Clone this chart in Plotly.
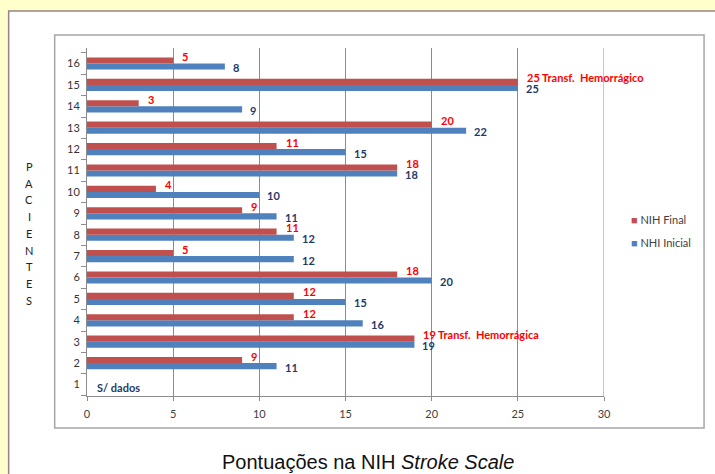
import plotly.graph_objects as go

# ---------------- data ----------------
patients = [str(i) for i in range(1, 17)]
nih_final = [None, 9, 19, 12, 12, 18, 5, 11, 9, 4, 18, 11, 20, 3, 25, 5]
nhi_inicial = [None, 11, 19, 16, 15, 20, 12, 12, 11, 10, 18, 15, 22, 9, 25, 8]
final_labels = ["", "9", "19 Transf.  Hemorrágica", "12", "12", "18", "5", "11", "9", "4",
                "18", "11", "20", "3", "25 Transf.  Hemorrágico", "5"]
inicial_labels = ["", "11", "19", "16", "15", "20", "12", "12", "11", "10",
                  "18", "15", "22", "9", "25", "8"]
no_data_label = "S/ dados"
series_names = ["NIH Final", "NHI Inicial"]
x_ticks = [0, 5, 10, 15, 20, 25, 30]
y_title_letters = list("PACIENTES")
title_text = "Pontuações na NIH <i>Stroke Scale</i>"

RED = "#C0504D"
BLUE = "#4F81BD"
RED_TXT = "#FF0000"
BLUE_TXT = "#1F3A68"
GRID = "#8C8C8C"
FONT = "Lato, Liberation Sans, sans-serif"

# ---------------- geometry (pixels) ----------------
W, H = 715, 474
L, R, T, B = 87.3, 604.0, 48.0, 396.0
PW, PH = R - L, B - T


def px(x):
    return (x - L) / PW


def py(y):
    return (B - y) / PH


fig = go.Figure()
fig.add_trace(go.Bar(y=patients, x=nhi_inicial, orientation="h", name=series_names[1],
                     marker=dict(color=BLUE, line=dict(width=0)), showlegend=False,
                     hoverinfo="x+y"))
fig.add_trace(go.Bar(y=patients, x=nih_final, orientation="h", name=series_names[0],
                     marker=dict(color=RED, line=dict(width=0)), showlegend=False,
                     hoverinfo="x+y"))

annotations = []
# category axis: annotation positions use the category index
for idx, (v, t) in enumerate(zip(nih_final, final_labels)):
    if v is None:
        continue
    annotations.append(dict(x=v, y=idx, xref="x", yref="y", text=t, showarrow=False,
                            xanchor="left", yanchor="middle", xshift=7, yshift=7,
                            font=dict(family=FONT, size=11, color=RED_TXT, weight="bold")))
for idx, (v, t) in enumerate(zip(nhi_inicial, inicial_labels)):
    if v is None:
        continue
    annotations.append(dict(x=v, y=idx, xref="x", yref="y", text=t, showarrow=False,
                            xanchor="left", yanchor="middle", xshift=6, yshift=-4,
                            font=dict(family=FONT, size=11, color=BLUE_TXT, weight="bold")))
# no data label for patient 1
annotations.append(dict(x=0, y=0, xref="x", yref="y", text=no_data_label,
                        showarrow=False, xanchor="left", yanchor="middle", xshift=8, yshift=-3,
                        font=dict(family=FONT, size=11, color=BLUE_TXT, weight="bold")))

# vertical "PACIENTES"
for i, ch in enumerate(y_title_letters):
    annotations.append(dict(x=px(29.5), y=py(166.5 + i * 16.7), xref="paper", yref="paper",
                            text=ch, showarrow=False, xanchor="center", yanchor="middle",
                            font=dict(family=FONT, size=11, color="#222222")))

# legend (annotations)
leg = [(series_names[0], RED, 220), (series_names[1], BLUE, 243)]
for name, col, yy in leg:
    annotations.append(dict(x=px(629), y=py(yy), xref="paper", yref="paper",
                            text=f"<span style='color:{col}'>■</span> {name}",
                            showarrow=False, xanchor="left", yanchor="middle",
                            font=dict(family=FONT, size=11, color="#404040")))

# title
annotations.append(dict(x=px(368), y=py(462), xref="paper", yref="paper", text=title_text,
                        showarrow=False, xanchor="center", yanchor="middle",
                        font=dict(family="Liberation Sans, Arial, sans-serif", size=20,
                                  color="#111111")))

shapes = [
    # white page area with brownish border
    dict(type="rect", xref="paper", yref="paper", x0=px(9), x1=px(720), y0=py(11), y1=py(480),
         fillcolor="white", line=dict(color="#9A8282", width=1.5), layer="below"),
    # chart area gray border
    dict(type="rect", xref="paper", yref="paper", x0=px(55), x1=px(704), y0=py(35), y1=py(428),
         fillcolor="white", line=dict(color="#A6A6A6", width=1.5), layer="below"),
    # last gridline at the right end of the value axis (plotly skips the edge one)
    dict(type="line", xref="x", yref="paper", x0=x_ticks[-1], x1=x_ticks[-1], y0=0, y1=1,
         line=dict(color=GRID, width=1), layer="below"),
]

fig.update_layout(
    width=W, height=H,
    margin=dict(l=L, r=W - R, t=T, b=H - B, pad=0),
    paper_bgcolor="#FFFFCC",
    plot_bgcolor="rgba(0,0,0,0)",
    barmode="group", bargap=0.43, bargroupgap=0,
    showlegend=False,
    annotations=annotations,
    shapes=shapes,
    font=dict(family=FONT, size=11, color="#404040"),
    xaxis=dict(range=[0, 30], tickvals=x_ticks, showgrid=True, gridcolor=GRID, gridwidth=1,
               zeroline=False, showline=True, linecolor=GRID, linewidth=1,
               ticks="outside", ticklen=4, tickcolor=GRID,
               tickfont=dict(family=FONT, size=11, color="#404040"), ticklabelstandoff=4,
               fixedrange=True),
    yaxis=dict(type="category", showgrid=False, zeroline=False, showline=True,
               linecolor=GRID, linewidth=1, ticks="outside", ticklen=5,
               tickcolor=GRID, tickson="boundaries",
               tickfont=dict(family=FONT, size=11, color="#333333"), ticklabelstandoff=4,
               fixedrange=True),
)

fig.write_html("out.html", config={"displayModeBar": False},
               post_script="document.body.style.margin='0';document.body.style.background='#FFFFCC';")
